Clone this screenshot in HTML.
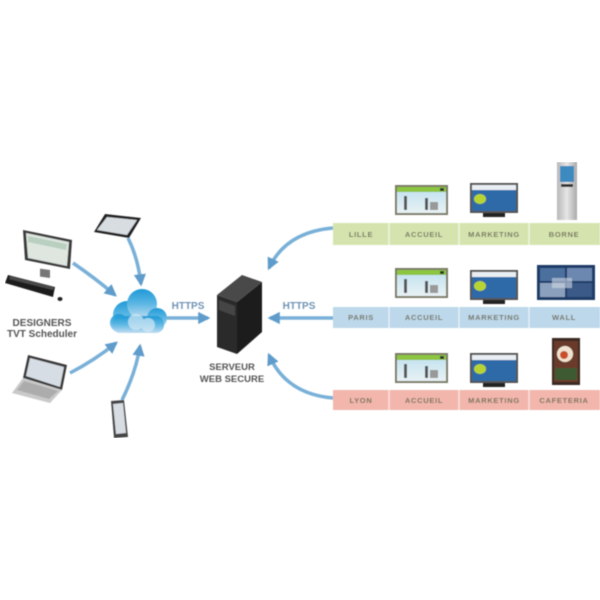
<!DOCTYPE html>
<html><head><meta charset="utf-8"><style>
html,body{margin:0;padding:0;background:#fff;}
svg{display:block;}
text{font-family:"Liberation Sans",sans-serif;font-weight:bold;}
</style></head><body>
<svg width="600" height="600" viewBox="0 0 600 600" xmlns="http://www.w3.org/2000/svg">
<defs>
<linearGradient id="cl" x1="0" y1="0" x2="0" y2="1"><stop offset="0" stop-color="#1f9ad6"/><stop offset="0.5" stop-color="#5db7e4"/><stop offset="1" stop-color="#c2def0"/></linearGradient>
<linearGradient id="silver" x1="0" y1="0" x2="1" y2="0"><stop offset="0" stop-color="#b8b8b8"/><stop offset="0.5" stop-color="#e6e6e6"/><stop offset="1" stop-color="#a8a8a8"/></linearGradient>
<linearGradient id="sky" x1="0" y1="0" x2="0" y2="1"><stop offset="0" stop-color="#bfe0f0"/><stop offset="1" stop-color="#e8f2f4"/></linearGradient>
<marker id="ah" viewBox="0 0 10 10" refX="8" refY="5" markerWidth="3.5" markerHeight="3.5" orient="auto"><path d="M0,0 L10,5 L0,10 z" fill="#5f9ccb"/></marker>
<filter id="soft" x="0" y="0" width="100%" height="100%"><feGaussianBlur stdDeviation="0.5"/></filter>
</defs>
<g filter="url(#soft)">
<!-- arrows -->
<g fill="none" stroke="#79b0d8" stroke-width="3.5" marker-end="url(#ah)">
<path d="M73,263 Q95,278 115,295"/>
<path d="M128,238 Q138,258 141,284"/>
<path d="M70,373 Q95,360 116,343"/>
<path d="M122,400 Q136,372 140,346"/>
<path d="M167,318 L208,318"/>
<path d="M333,318 L270,318"/>
<path d="M333,228 Q286,232 269,268"/>
<path d="M333,398 Q286,394 269,355"/>
</g>

<!-- desktop monitor -->
<polygon points="23,230 72,240 70,269 25,260" fill="#3a3a3a"/>
<polygon points="26,233 69,242 67,266 28,258" fill="#dfe6e0"/>
<polygon points="28,236 67,244 66,250 28,242" fill="#b9cfc0"/>
<rect x="40" y="263" width="10" height="8" fill="#777" transform="skewY(8)"/>
<!-- keyboard -->
<polygon points="8,275 55,287 53,297 5,283" fill="#1e1e1e"/>
<polygon points="10,276 54,287 53,290 9,279" fill="#4a4a4a"/>
<ellipse cx="60" cy="299" rx="2.5" ry="2" fill="#222"/>

<text x="42" y="326" font-size="10" fill="#555" text-anchor="middle">DESIGNERS</text>
<text x="42" y="337" font-size="10" fill="#555" text-anchor="middle">TVT Scheduler</text>

<!-- tablet -->
<polygon points="105,214 141,218 129,238 94,232" fill="#222"/>
<polygon points="107,217 137,220 127,235 97,230" fill="#d8dde2"/>

<!-- laptop -->
<polygon points="28,355 67,365 62,390 23,378" fill="#3b3b3b"/>
<polygon points="30,358 64,367 60,387 26,376" fill="#d6dde4"/>
<polygon points="23,378 62,390 50,403 12,393" fill="#c9c9c9"/>
<polygon points="24,381 58,391 49,399 17,390" fill="#9a9a9a" opacity="0.6"/>

<!-- phone -->
<polygon points="111,401 124,400 128,437 114,438" fill="#444"/>
<polygon points="113,404 123,403 126,433 116,434" fill="#d8dde3"/>

<!-- cloud -->
<g fill="url(#cl)">
<circle cx="127" cy="315" r="14"/>
<circle cx="142" cy="304" r="15"/>
<circle cx="157" cy="318" r="10"/>
<circle cx="119" cy="323" r="9"/>
<rect x="112" y="316" width="52" height="17" rx="8"/>
</g>
<g fill="#d6eaf6" opacity="0.7">
<circle cx="136" cy="322" r="8"/><circle cx="148" cy="325" r="7"/>
</g>

<text x="188" y="309" font-size="10" fill="#6f93b3" text-anchor="middle">HTTPS</text>
<text x="299" y="309" font-size="10" fill="#6f93b3" text-anchor="middle">HTTPS</text>

<!-- server -->
<polygon points="217,295 242,275 262,282 237,302" fill="#4a4a4a"/>
<polygon points="217,295 237,302 237,354 217,347" fill="#2b2b2b"/>
<polygon points="237,302 262,282 262,332 237,354" fill="#1a1a1a"/>
<polygon points="219,300 235,306 235,316 219,310" fill="#444"/>

<text x="232" y="370" font-size="9.5" fill="#555" text-anchor="middle">SERVEUR</text>
<text x="232" y="382" font-size="9.5" fill="#555" text-anchor="middle">WEB SECURE</text>

<!-- rows -->
<g>
<rect x="333" y="223" width="267" height="22" fill="#d5e4ae"/>
<rect x="333" y="307" width="267" height="21" fill="#bdd8ea"/>
<rect x="333" y="390" width="267" height="20" fill="#f2b6ac"/>
<g stroke="#ffffff" stroke-opacity="0.6" stroke-width="1.5">
<line x1="389" y1="223" x2="389" y2="245"/><line x1="459" y1="223" x2="459" y2="245"/><line x1="529" y1="223" x2="529" y2="245"/>
<line x1="389" y1="307" x2="389" y2="328"/><line x1="459" y1="307" x2="459" y2="328"/><line x1="529" y1="307" x2="529" y2="328"/>
<line x1="389" y1="390" x2="389" y2="410"/><line x1="459" y1="390" x2="459" y2="410"/><line x1="529" y1="390" x2="529" y2="410"/>
</g>
<g font-size="7.5" fill="#72725f" text-anchor="middle" letter-spacing="0.7">
<text x="361" y="237">LILLE</text><text x="424" y="237">ACCUEIL</text><text x="494" y="237">MARKETING</text><text x="564" y="237">BORNE</text>
<text x="361" y="320">PARIS</text><text x="424" y="320">ACCUEIL</text><text x="494" y="320">MARKETING</text><text x="564" y="320">WALL</text>
<text x="361" y="403">LYON</text><text x="424" y="403">ACCUEIL</text><text x="494" y="403">MARKETING</text><text x="564" y="403">CAFETERIA</text>
</g>
</g>

<!-- accueil screens -->
<g id="acc">
<rect x="395" y="185" width="53" height="30" fill="#7d7a68"/>
<rect x="397" y="187" width="49" height="26" fill="url(#sky)"/>
<rect x="397" y="187" width="49" height="5" fill="#8cc63f"/>
<rect x="404" y="196" width="3" height="14" fill="#555"/>
<rect x="425" y="198" width="3" height="12" fill="#555"/>
<rect x="430" y="202" width="8" height="8" fill="#999"/>
<rect x="440" y="188" width="4" height="3" fill="#333"/>
</g>
<use href="#acc" y="83"/>
<use href="#acc" y="168"/>

<!-- marketing monitors -->
<g id="mkt">
<rect x="470" y="183" width="48" height="30" fill="#555"/>
<rect x="472" y="185" width="44" height="26" fill="#2f6aa8"/>
<rect x="472" y="185" width="44" height="5" fill="#e8eef2"/>
<ellipse cx="480" cy="199" rx="6" ry="5" fill="#b8d432"/>
<rect x="483" y="213" width="22" height="4" fill="#222"/>
</g>
<use href="#mkt" y="87"/>
<use href="#mkt" y="170"/>

<!-- borne kiosk -->
<rect x="557" y="162" width="20" height="58" fill="url(#silver)"/>
<rect x="560" y="166" width="14" height="16" fill="#3d8ac0"/>
<rect x="561" y="184" width="12" height="3" fill="#333"/>

<!-- wall -->
<rect x="537" y="265" width="58" height="35" fill="#1f3a66"/>
<rect x="540" y="268" width="25" height="13" fill="#4c6f9e"/>
<rect x="567" y="268" width="25" height="13" fill="#6d88b0"/>
<rect x="540" y="283" width="25" height="14" fill="#8aa0bc"/>
<rect x="567" y="283" width="25" height="14" fill="#3a5a88"/>
<rect x="552" y="278" width="20" height="10" fill="#d0d8e4" opacity="0.6"/>

<!-- cafeteria poster -->
<rect x="552" y="338" width="28" height="47" fill="#3a2a22"/>
<rect x="554" y="341" width="24" height="41" fill="#6b3a2c"/>
<circle cx="565" cy="354" r="8" fill="#f0e4d0"/>
<circle cx="564" cy="355" r="4" fill="#c8502c"/>
<rect x="555" y="368" width="22" height="12" fill="#3e5a30"/>
</g>
</svg>
</body></html>
